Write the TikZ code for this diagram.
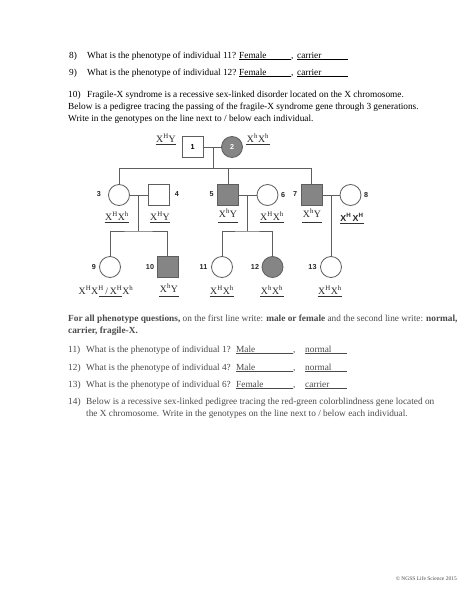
\documentclass[tikz,border=0pt]{standalone}
\usepackage{fontspec}
\setmainfont{Liberation Serif}
\newfontfamily\arialfont{Liberation Sans}
\usetikzlibrary{calc}
\definecolor{linegray}{HTML}{5E5E5E}
\definecolor{affgray}{HTML}{858585}
\definecolor{blurtext}{HTML}{4A4A4A}
\newcommand{\bodyfnt}{\fontsize{9.3}{12}\selectfont}
\newcommand{\numfnt}{\arialfont\bfseries\fontsize{7.2}{8}\selectfont}
\newcommand{\genofnt}{\fontsize{9.8}{11}\selectfont}
\newcommand{\gX}[1]{X\textsuperscript{#1}}
\tikzset{
  male/.style={draw=linegray, line width=0.8pt, minimum size=21pt, inner sep=0pt, font=\numfnt},
  female/.style={draw=linegray, line width=0.8pt, circle, minimum size=21pt, inner sep=0pt, font=\numfnt},
  aff/.style={fill=affgray},
  num/.style={font=\numfnt, inner sep=0pt, text=black!85},
  geno/.style={font=\genofnt, anchor=base, inner xsep=0.3pt, inner ysep=2.5pt, text depth=0pt, text=black!85},
  ul/.style={draw=black!80, line width=0.6pt},
  conn/.style={draw=linegray, line width=0.8pt},
  txt/.style={anchor=base west, inner sep=0pt, font=\bodyfnt},
  btxt/.style={anchor=base west, inner sep=0pt, font=\bodyfnt, text=blurtext},
}
\begin{document}
\begin{tikzpicture}[x=1pt,y=-1pt]
\useasboundingbox[fill=white] (0,0) rectangle (474,613);

% --- questions 8, 9
\node[txt] (q8n) at (69,58) {8)};
\node[txt] (q8) at (87,58) {What is the phenotype of individual 11?};
\node[txt] (q8a) at (239,58) {\underline{\makebox[52pt][l]{Female}},};
\node[txt] (q8b) at (297,58) {\underline{\makebox[51pt][l]{carrier}}};
\node[txt] (q9n) at (69,75) {9)};
\node[txt] (q9) at (87,75) {What is the phenotype of individual 12?};
\node[txt] (q9a) at (239,75) {\underline{\makebox[52pt][l]{Female}},};
\node[txt] (q9b) at (297,75) {\underline{\makebox[51pt][l]{carrier}}};

% --- question 10
\node[txt] (q10n) at (68,97) {10)};
\node[txt] (q10a) at (87,97) {Fragile-X syndrome is a recessive sex-linked disorder located on the X chromosome.};
\node[txt] (q10b) at (68,109) {Below is a pedigree tracing the passing of the fragile-X syndrome gene through 3 generations.};
\node[txt] (q10c) at (68,121) {Write in the genotypes on the line next to / below each individual.};

% --- pedigree: generation I
\node[male] (n1) at (192.5,147) {1};
\node[female, aff, text=white] (n2) at (232,147) {2};
% generation II
\node[female] (n3) at (119,195) {};
\node[male] (n4) at (159,195) {};
\node[male, aff] (n5) at (228,195) {};
\node[female] (n6) at (267.5,195) {};
\node[male, aff] (n7) at (311.5,195) {};
\node[female] (n8) at (350.5,195) {};
% generation III
\node[female] (n9) at (110,267) {};
\node[male, aff] (n10) at (167.5,267) {};
\node[female] (n11) at (222,267) {};
\node[female, aff] (n12) at (272.5,267) {};
\node[female] (n13) at (331,267) {};

% numbers
\node[num] (l3) at (99,194) {3};
\node[num] (l4) at (177,194) {4};
\node[num] (l5) at (211.5,194) {5};
\node[num] (l6) at (283,195) {6};
\node[num] (l7) at (295,194) {7};
\node[num] (l8) at (366,195) {8};
\node[num] (l9) at (94,267) {9};
\node[num] (l10) at (150,267) {10};
\node[num] (l11) at (203.5,267) {11};
\node[num] (l12) at (255,267) {12};
\node[num] (l13) at (312.5,267) {13};

% connectors
\coordinate (d1) at (213,147);
\coordinate (s1) at (213,168.5);
\draw[conn] (n1.east) -- (n2.west);
\draw[conn] (d1) -- (s1);
\draw[conn] (n3.north) |- (n7.north |- s1) -- (n7.north);
\draw[conn] (n5.north |- s1) -- (n5.north);

\coordinate (d34) at (138,195);
\coordinate (s34) at (138,231);
\draw[conn] (n3.east) -- (n4.west);
\draw[conn] (d34) -- (s34);
\draw[conn] (n9.north) |- (s34) -| (n10.north);

\coordinate (d56) at (247,195);
\coordinate (s56) at (247,231);
\draw[conn] (n5.east) -- (n6.west);
\draw[conn] (d56) -- (s56);
\draw[conn] (n11.north) |- (s56) -| (n12.north);

\coordinate (d78) at (331,195);
\draw[conn] (n7.east) -- (n8.west);
\draw[conn] (d78) -- (n13.north);

% genotypes
\node[geno] (g1) at (166,142) {\gX{H}Y};
\node[geno] (g2) at (258,142) {\gX{h}\gX{h}};
\node[geno] (g3) at (117,220) {\gX{H}\gX{h}};
\node[geno] (g4) at (160,220) {\gX{H}Y};
\node[geno, inner ysep=5pt] (g5) at (228,217) {\gX{h}Y};
\node[geno] (g6) at (272,220) {\gX{H}\gX{h}};
\node[geno, inner ysep=5pt] (g7) at (312,217) {\gX{h}Y};
\node[geno, font=\arialfont\bfseries\fontsize{8.8}{10}\selectfont] (g8) at (352,221) {\gX{H}\,\gX{H}};
\node[geno] (g9) at (106,294) {\gX{H}\gX{H}\,/\,\gX{H}\gX{h}};
\node[geno, inner ysep=4pt] (g10) at (169,292) {\gX{h}Y};
\node[geno] (g11) at (222,294) {\gX{H}\gX{h}};
\node[geno] (g12) at (272,294) {\gX{h}\gX{h}};
\node[geno] (g13) at (330,294) {\gX{H}\gX{h}};
\foreach \g in {g1,g2,g3,g4,g5,g6,g7,g8,g10,g11,g12,g13}
  \draw[ul] (\g.south west) -- (\g.south east);
\draw[ul] ([xshift=21pt]g9.south west) -- ([xshift=-12pt]g9.south east);

% --- lower (blurred) text
\node[btxt] (p1) at (68,321) {\textbf{For all phenotype questions,} on the first line write: \textbf{male or female} and the second line write: \textbf{normal,}};
\node[btxt] (p2) at (68,333) {\textbf{carrier, fragile-X.}};

\node[btxt] (q11n) at (68,352) {11)};
\node[btxt] (q11) at (86,352) {What is the phenotype of individual 1?};
\node[btxt] (q11a) at (236,352) {\underline{\makebox[57pt][l]{Male}},};
\node[btxt] (q11b) at (305,352) {\underline{\makebox[42pt][l]{normal}}};

\node[btxt] (q12n) at (68,370) {12)};
\node[btxt] (q12) at (86,370) {What is the phenotype of individual 4?};
\node[btxt] (q12a) at (236,370) {\underline{\makebox[57pt][l]{Male}},};
\node[btxt] (q12b) at (305,370) {\underline{\makebox[42pt][l]{normal}}};

\node[btxt] (q13n) at (68,387) {13)};
\node[btxt] (q13) at (86,387) {What is the phenotype of individual 6?};
\node[btxt] (q13a) at (236,387) {\underline{\makebox[57pt][l]{Female}},};
\node[btxt] (q13b) at (305,387) {\underline{\makebox[42pt][l]{carrier}}};

\node[btxt] (q14n) at (68,404) {14)};
\node[btxt] (q14a) at (86,404) {Below is a recessive sex-linked pedigree tracing the red-green colorblindness gene located on};
\node[btxt] (q14b) at (86,416) {the X chromosome. Write in the genotypes on the line next to / below each individual.};

\node[anchor=base east, inner sep=0pt, font=\fontsize{5.5}{6}\selectfont, text=black!70] (foot) at (457,580) {© NGSS Life Science 2015};
\end{tikzpicture}
\end{document}
